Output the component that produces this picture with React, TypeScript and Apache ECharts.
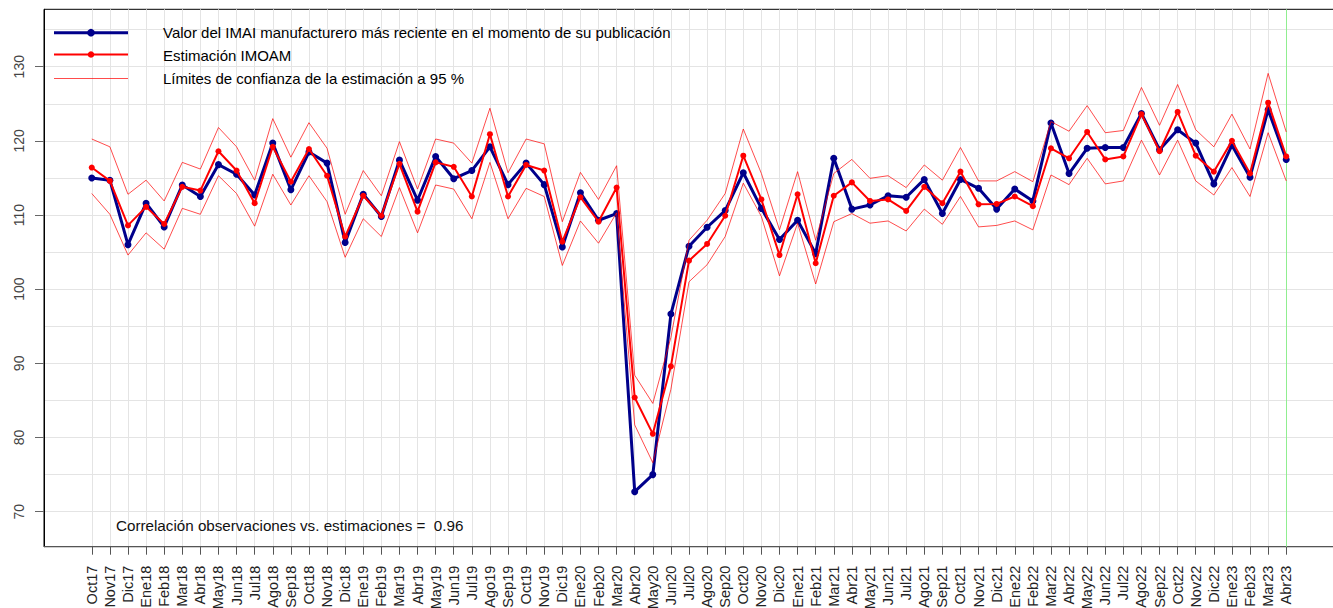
import React, { useEffect, useRef } from "react";
import * as echarts from "echarts";

const months = [
  "Oct17", "Nov17", "Dic17", "Ene18", "Feb18", "Mar18", "Abr18", "May18", "Jun18", "Jul18", "Ago18", "Sep18",
  "Oct18", "Nov18", "Dic18", "Ene19", "Feb19", "Mar19", "Abr19", "May19", "Jun19", "Jul19", "Ago19", "Sep19",
  "Oct19", "Nov19", "Dic19", "Ene20", "Feb20", "Mar20", "Abr20", "May20", "Jun20", "Jul20", "Ago20", "Sep20",
  "Oct20", "Nov20", "Dic20", "Ene21", "Feb21", "Mar21", "Abr21", "May21", "Jun21", "Jul21", "Ago21", "Sep21",
  "Oct21", "Nov21", "Dic21", "Ene22", "Feb22", "Mar22", "Abr22", "May22", "Jun22", "Jul22", "Ago22", "Sep22",
  "Oct22", "Nov22", "Dic22", "Ene23", "Feb23", "Mar23", "Abr23",
];

const imai = [
  115.0, 114.7, 106.0, 111.6, 108.4, 114.05, 112.5, 116.8, 115.5, 112.7, 119.7, 113.4,
  118.5, 117.0, 106.3, 112.8, 109.8, 117.4, 112.0, 117.9, 114.9, 116.0, 119.2, 114.1,
  117.0, 114.1, 105.7, 113.0, 109.3, 110.2, 72.7, 75.0, 96.65, 105.8, 108.35, 110.6,
  115.7, 110.9, 106.7, 109.3, 104.8, 117.65, 110.8, 111.35, 112.6, 112.4, 114.8, 110.2,
  114.8, 113.6, 110.8, 113.5, 111.9, 122.4, 115.6, 119.0, 119.1, 119.1, 123.7, 118.8,
  121.5, 119.7, 114.2, 119.4, 115.1, 124.2, 117.5,
];

const imoam = [
  116.4, 114.6, 108.6, 111.1, 108.8, 113.8, 113.3, 118.6, 116.0, 111.6, 119.2, 114.5,
  118.9, 115.3, 107.1, 112.6, 109.9, 116.9, 110.45, 117.1, 116.5, 112.5, 120.9, 112.5,
  116.75, 116.0, 106.4, 112.4, 109.1, 113.7, 85.4, 80.5, 89.6, 103.85, 106.1, 109.9,
  118.0, 112.1, 104.6, 112.8, 103.5, 112.6, 114.4, 111.9, 112.1, 110.55, 113.8, 111.6,
  115.85, 111.45, 111.5, 112.5, 111.2, 119.0, 117.65, 121.2, 117.5, 117.9, 123.6, 118.6,
  123.9, 118.0, 115.85, 120.0, 115.6, 125.15, 117.9,
];

const ciUpper = [
  120.25, 119.2, 112.8, 114.7, 111.9, 117.1, 116.2, 121.8, 119.2, 114.7, 123.0, 117.8,
  122.45, 119.0, 110.1, 116.0, 112.6, 119.9, 113.5, 120.25, 119.7, 117.0, 124.4, 115.7,
  120.25, 119.6, 109.1, 115.75, 112.1, 116.65, 88.4, 84.6, 93.5, 106.6, 109.3, 112.9,
  121.6, 115.6, 108.0, 115.85, 106.6, 115.6, 117.5, 114.95, 115.3, 113.7, 116.75, 114.7,
  119.1, 114.6, 114.6, 115.85, 114.5, 122.6, 121.3, 124.75, 121.1, 121.4, 127.2, 122.1,
  127.6, 121.5, 119.2, 123.6, 118.9, 129.1, 121.2,
];

const ciLower = [
  112.9, 110.1, 104.6, 107.6, 105.4, 110.9, 110.1, 115.3, 112.9, 108.5, 115.5, 111.35,
  115.3, 111.8, 104.3, 109.5, 107.1, 113.7, 107.6, 114.05, 113.5, 109.5, 117.1, 109.5,
  113.6, 112.5, 103.2, 109.2, 106.2, 110.3, 81.7, 76.6, 86.5, 101.0, 103.3, 107.1,
  114.3, 109.8, 101.8, 108.9, 100.7, 109.1, 110.2, 108.9, 109.2, 107.85, 110.8, 108.75,
  112.5, 108.4, 108.6, 109.2, 108.0, 115.4, 114.1, 117.65, 114.2, 114.6, 120.1, 115.4,
  120.1, 114.6, 112.7, 116.4, 112.5, 121.1, 114.6,
];

const yTickValues = [70, 80, 90, 100, 110, 120, 130];
const yGridValues = [70, 75, 80, 85, 90, 95, 100, 105, 110, 115, 120, 125, 130, 135];
const legendLabels = [
  "Valor del IMAI manufacturero más reciente en el momento de su publicación",
  "Estimación IMOAM",
  "Límites de confianza de la estimación a 95 %",
];
const correlationText = "Correlación observaciones vs. estimaciones =  0.96";
const highlightMonth = "Abr23";

const FONT = "'Liberation Sans', Arial, Helvetica, sans-serif";
const BLUE = "#00008B";
const RED = "#FF0000";
const CI_RED = "rgba(255,0,0,0.7)";

export default function App() {
  const ref = useRef<HTMLDivElement | null>(null);

  useEffect(() => {
    if (!ref.current) return;
    const chart = echarts.init(ref.current, undefined, { renderer: "svg" });
    const idx = months.map((_, i) => i);
    const hi = months.indexOf(highlightMonth);
    const pairs = (arr: number[]) => arr.map((v, i) => [i, v]);

    const option: any = {
      animation: false,
      backgroundColor: "#ffffff",
      grid: {
        left: 44,
        top: 9.3,
        width: 1290,
        height: 537.4,
        outerBoundsMode: "none",
        containLabel: false,
        show: true,
        borderColor: "#000",
        borderWidth: 1,
        backgroundColor: "transparent",
      },
      xAxis: {
        type: "value",
        min: -2.64,
        max: 68.64,
        axisLine: { show: true, onZero: false, lineStyle: { color: "#555", width: 1 } },
        axisTick: { show: true, customValues: idx, length: 8, lineStyle: { color: "#555", width: 1 } },
        axisLabel: {
          customValues: idx,
          rotate: 90,
          margin: 19,
          fontSize: 14.5,
          color: "#222",
          fontFamily: FONT,
          formatter: (v: number) => months[Math.round(v)] ?? "",
        },
        splitLine: { show: false },
      },
      yAxis: {
        type: "value",
        min: 65.28,
        max: 137.74,
        axisLine: { show: true, onZero: false, lineStyle: { color: "#000", width: 1 } },
        axisTick: { show: true, customValues: yTickValues, length: 9, lineStyle: { color: "#666", width: 1 } },
        axisLabel: {
          customValues: yTickValues,
          rotate: 90,
          margin: 18,
          fontSize: 14,
          color: "#444",
          fontFamily: FONT,
        },
        splitLine: { show: false },
      },
      series: [
        {
          type: "line",
          name: "grid",
          data: [],
          silent: true,
          markLine: {
            silent: true,
            z: 0,
            symbol: "none",
            animation: false,
            label: { show: false },
            emphasis: { disabled: true },
            lineStyle: { color: "#e4e4e4", width: 1, type: "solid" },
            data: [
              ...yGridValues.map((v) => ({ yAxis: v })),
              ...idx.filter((i) => i !== hi).map((i) => ({ xAxis: i })),
            ],
          },
        },
        {
          type: "line",
          name: "highlight",
          data: [],
          silent: true,
          markLine: {
            silent: true,
            z: 1,
            symbol: "none",
            animation: false,
            label: { show: false },
            emphasis: { disabled: true },
            lineStyle: { color: "#90ee90", width: 1, type: "solid" },
            data: [{ xAxis: hi }],
          },
        },
        {
          type: "line",
          name: legendLabels[0],
          data: pairs(imai),
          symbol: "circle",
          symbolSize: 7,
          lineStyle: { color: BLUE, width: 3 },
          itemStyle: { color: BLUE },
          z: 3,
        },
        {
          type: "line",
          name: legendLabels[1],
          data: pairs(imoam),
          symbol: "circle",
          symbolSize: 6,
          lineStyle: { color: RED, width: 2 },
          itemStyle: { color: RED },
          z: 4,
        },
        {
          type: "line",
          name: "upper",
          data: pairs(ciUpper),
          symbol: "none",
          lineStyle: { color: CI_RED, width: 1 },
          z: 5,
        },
        {
          type: "line",
          name: "lower",
          data: pairs(ciLower),
          symbol: "none",
          lineStyle: { color: CI_RED, width: 1 },
          z: 5,
        },
      ],
      graphic: [
        { type: "line", shape: { x1: 54, y1: 32.7, x2: 128, y2: 32.7 }, style: { stroke: BLUE, lineWidth: 3 }, z: 10 },
        { type: "circle", shape: { cx: 91, cy: 32.7, r: 3.8 }, style: { fill: BLUE }, z: 10 },
        {
          type: "text", x: 163, y: 32.7, z: 10,
          style: { text: legendLabels[0], fontSize: 15, fontFamily: FONT, fill: "#000", verticalAlign: "middle" },
        },
        { type: "line", shape: { x1: 54, y1: 54.5, x2: 128, y2: 54.5 }, style: { stroke: RED, lineWidth: 2 }, z: 10 },
        { type: "circle", shape: { cx: 91, cy: 54.5, r: 3.3 }, style: { fill: RED }, z: 10 },
        {
          type: "text", x: 163, y: 55, z: 10,
          style: { text: legendLabels[1], fontSize: 15, fontFamily: FONT, fill: "#000", verticalAlign: "middle" },
        },
        { type: "line", shape: { x1: 54, y1: 78.5, x2: 128, y2: 78.5 }, style: { stroke: CI_RED, lineWidth: 1 }, z: 10 },
        {
          type: "text", x: 163, y: 78.5, z: 10,
          style: { text: legendLabels[2], fontSize: 15, fontFamily: FONT, fill: "#000", verticalAlign: "middle" },
        },
        {
          type: "text", x: 116, y: 525.5, z: 10,
          style: { text: correlationText, fontSize: 15.2, fontFamily: FONT, fill: "#111", verticalAlign: "middle" },
        },
      ],
    };

    chart.setOption(option);
    return () => chart.dispose();
  }, []);

  return (
    <div
      ref={ref}
      style={{ position: "absolute", left: 0, top: 0, width: 1333, height: 608, background: "#fff" }}
    />
  );
}
